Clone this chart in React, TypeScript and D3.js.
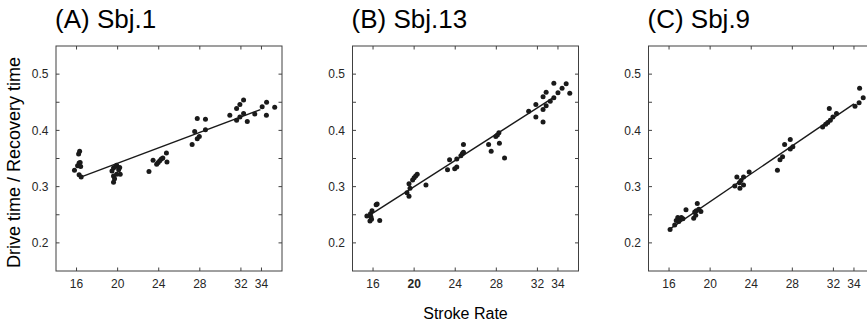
import React from "react";
import * as d3 from "d3";

// ---- data ----
const titles = ["(A) Sbj.1", "(B) Sbj.13", "(C) Sbj.9"];
const xTicks = [16, 20, 24, 28, 32, 34];
const yTickLabels = [0.2, 0.3, 0.4, 0.5];
const yMinorTicks = [0.2, 0.25, 0.3, 0.35, 0.4, 0.45, 0.5];

const sbj1Rate = [15.8, 16.2, 16.3, 16.25, 16.35, 16.1, 16.4, 16.25, 16.45,
  19.45, 19.6, 19.6, 19.6, 19.7, 19.8, 19.9, 19.9, 20.1, 20.2, 20.25,
  23.05, 23.45, 23.8, 23.95, 24.1, 24.25, 24.4, 24.75, 24.8,
  27.25, 27.5, 27.75, 27.75, 27.95, 28.55, 28.55,
  30.92, 31.58, 31.9, 32.26, 31.58, 31.9, 32.26, 32.62, 33.35, 34.07, 34.5, 34.48, 35.29];
const sbj1Ratio = [0.329, 0.358, 0.363, 0.342, 0.343, 0.337, 0.336, 0.321, 0.317,
  0.328, 0.333, 0.319, 0.308, 0.314, 0.336, 0.338, 0.322, 0.330, 0.334, 0.322,
  0.327, 0.347, 0.340, 0.343, 0.346, 0.349, 0.351, 0.360, 0.344,
  0.375, 0.398, 0.421, 0.385, 0.389, 0.420, 0.401,
  0.427, 0.439, 0.446, 0.454, 0.418, 0.424, 0.430, 0.416, 0.429, 0.442, 0.450, 0.427, 0.441];
const sbj1Fit = [[16.4, 0.317], [33.9, 0.437]];

const sbj13Rate = [15.4, 15.7, 15.85, 15.75, 15.9, 15.8, 16.3, 16.4, 16.65,
  19.3, 19.5, 19.5, 19.6, 19.85, 20.0, 20.15, 20.3, 21.15,
  23.25, 23.45, 23.95, 24.15, 24.15, 24.55, 24.7, 24.8, 24.8,
  27.25, 27.5, 27.95, 28.1, 28.25, 28.3, 28.8,
  31.15, 31.85, 31.85, 32.55, 32.85, 32.55, 32.85, 33.25, 33.6, 33.6, 34.0, 34.4, 34.8, 35.15, 32.55];
const sbj13Ratio = [0.248, 0.239, 0.242, 0.252, 0.257, 0.246, 0.268, 0.269, 0.240,
  0.289, 0.283, 0.305, 0.297, 0.312, 0.316, 0.319, 0.322, 0.303,
  0.330, 0.348, 0.332, 0.335, 0.349, 0.355, 0.359, 0.361, 0.375,
  0.375, 0.363, 0.389, 0.392, 0.396, 0.377, 0.351,
  0.434, 0.446, 0.424, 0.460, 0.468, 0.437, 0.444, 0.452, 0.458, 0.484, 0.467, 0.475, 0.483, 0.466, 0.415];
const sbj13Fit = [[15.9, 0.252], [33.7, 0.460]];

const sbj9Rate = [16.1, 16.55, 16.7, 16.85, 17.0, 17.2, 17.35, 16.95, 17.65,
  18.4, 18.6, 18.75, 18.65, 18.9, 19.1, 18.5,
  22.4, 22.6, 22.85, 23.0, 22.9, 23.25, 23.25, 23.8,
  26.55, 26.8, 27.05, 27.25, 27.8, 27.8, 28.05,
  30.95, 31.25, 31.45, 31.7, 31.95, 32.3, 31.6, 34.1, 34.5, 34.55, 34.9];
const sbj9Ratio = [0.224, 0.232, 0.240, 0.245, 0.242, 0.245, 0.243, 0.238, 0.259,
  0.244, 0.249, 0.270, 0.257, 0.260, 0.256, 0.255,
  0.301, 0.317, 0.307, 0.311, 0.297, 0.303, 0.317, 0.326,
  0.329, 0.348, 0.353, 0.375, 0.384, 0.367, 0.371,
  0.406, 0.411, 0.414, 0.418, 0.424, 0.430, 0.439, 0.443, 0.449, 0.475, 0.458];
const sbj9Fit = [[16.1, 0.225], [34.0, 0.447]];

const rates = [sbj1Rate, sbj13Rate, sbj9Rate];
const ratios = [sbj1Ratio, sbj13Ratio, sbj9Ratio];
const fits = [sbj1Fit, sbj13Fit, sbj9Fit];

const yLabel = "Drive time / Recovery time";
const xLabel = "Stroke Rate";

// ---- layout ----
const W = 867;
const H = 325;
const panelLefts = [56, 352.5, 648.5];
const panelW = 226;
const top = 46;
const bottom = 271;
const FONT = "'Liberation Sans', Arial, Helvetica, sans-serif";
const AXIS = "#404040";
const TEXT = "#262626";

function Panel({ idx }: { idx: number }) {
  const left = panelLefts[idx];
  const right = left + panelW;
  const x = d3.scaleLinear().domain([14, 36]).range([left, right]);
  const y = d3.scaleLinear().domain([0.15, 0.55]).range([bottom, top]);
  const line = d3
    .line<number[]>()
    .x((d) => x(d[0]))
    .y((d) => y(d[1]));
  const rs = rates[idx];
  const vs = ratios[idx];
  const tl = 3.5;
  return (
    <g>
      <text x={left - 1} y={28} fontSize={26} fontFamily={FONT} fill="#000">
        {titles[idx]}
      </text>
      <rect x={left} y={top} width={panelW} height={bottom - top} fill="none" stroke={AXIS} strokeWidth={1} />
      {xTicks.map((t) => (
        <g key={"x" + t}>
          <line x1={x(t)} x2={x(t)} y1={bottom} y2={bottom - tl} stroke={AXIS} />
          <line x1={x(t)} x2={x(t)} y1={top} y2={top + tl} stroke={AXIS} />
          <text
            x={x(t)}
            y={bottom + 16.5}
            fontSize={12}
            fontFamily={FONT}
            fill={TEXT}
            textAnchor="middle"
            fontWeight={idx === 1 && t === 20 ? "bold" : "normal"}
          >
            {t}
          </text>
        </g>
      ))}
      {yMinorTicks.map((t) => (
        <g key={"y" + t}>
          <line x1={left} x2={left + tl} y1={y(t)} y2={y(t)} stroke={AXIS} />
          <line x1={right} x2={right - tl} y1={y(t)} y2={y(t)} stroke={AXIS} />
        </g>
      ))}
      {yTickLabels.map((t) => (
        <text
          key={"yl" + t}
          x={left - 7.5}
          y={y(t)}
          dy="0.35em"
          fontSize={12}
          fontFamily={FONT}
          fill={TEXT}
          textAnchor="end"
        >
          {d3.format(".1f")(t)}
        </text>
      ))}
      <path d={line(fits[idx]) || ""} fill="none" stroke="#1a1a1a" strokeWidth={1.4} />
      {rs.map((r, i) => (
        <circle key={i} cx={x(r)} cy={y(vs[i])} r={2.5} fill="#1a1a1a" />
      ))}
    </g>
  );
}

export default function App() {
  const cB = panelLefts[1] + panelW / 2;
  return (
    <svg
      width={W}
      height={H}
      style={{ position: "absolute", left: 0, top: 0, background: "#fff" }}
    >
      <rect x={0} y={0} width={W} height={H} fill="#fff" />
      {[0, 1, 2].map((i) => (
        <Panel key={i} idx={i} />
      ))}
      <text
        transform={`translate(20,162.5) rotate(-90)`}
        textAnchor="middle"
        fontSize={18}
        fontFamily={FONT}
        fill="#000"
      >
        {yLabel}
      </text>
      <text x={cB} y={319} textAnchor="middle" fontSize={16} fontFamily={FONT} fill="#000">
        {xLabel}
      </text>
    </svg>
  );
}
